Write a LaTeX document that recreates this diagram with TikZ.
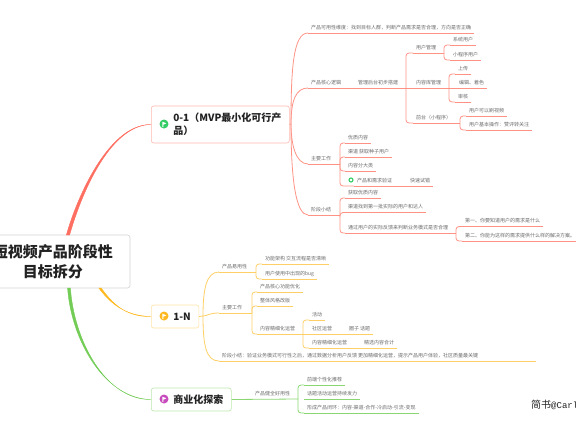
\documentclass[tikz,border=0pt]{standalone}
\usepackage{fontspec}
\setmainfont{Noto Sans CJK SC}
\newfontfamily\creditmono{Liberation Mono}
\usetikzlibrary{positioning,calc}
\definecolor{labelgray}{HTML}{6A6A6A}
\definecolor{darktext}{HTML}{222222}
\definecolor{redmain}{HTML}{FF6F61}
\definecolor{redline}{HTML}{FF9285}
\definecolor{redbox}{HTML}{FFB9B0}
\definecolor{ambermain}{HTML}{FFB81F}
\definecolor{amberline}{HTML}{FFCF66}
\definecolor{amberbox}{HTML}{FFE3A6}
\definecolor{greenmain}{HTML}{72CC55}
\definecolor{greenline}{HTML}{8AD672}
\definecolor{greenbox}{HTML}{BCE8AC}
\definecolor{flaggreen}{HTML}{33CC66}
\definecolor{flagpurple}{HTML}{C84BBE}

\begin{document}
\begin{tikzpicture}[x=1pt, y=-1pt, font=\fontsize{5}{6}\selectfont, node distance=12pt]
\tikzset{lbl/.style={anchor=south west, inner xsep=3pt, inner ysep=3pt, outer sep=0pt, text height=4.4pt, text depth=.6pt, text=labelgray},
topic/.style={lbl, append after command={(\tikzlastnode.south west) edge[draw=#1, line width=.8pt] (\tikzlastnode.south east)}},
wire/.style={draw=#1, line width=.8pt, rounded corners=3pt},
stagebox/.style={draw=#1, fill=white, anchor=west, rounded corners=2.5pt, line width=.6pt, inner xsep=8pt, inner ysep=2pt, align=left, text=darktext, font=\fontsize{10}{13}\selectfont\bfseries},
flagdot/.style={circle, fill=#1, minimum size=9pt, inner sep=0pt}}
\useasboundingbox (0,0) rectangle (576,432);

% centre and the three stages
\node[draw=gray!35, fill=white, rounded corners=2.5pt, line width=.6pt, minimum width=154pt, minimum height=53pt, align=center, text=darktext, font=\fontsize{15}{20.5}\selectfont\bfseries] (root) at (53,261.5) {短视频产品阶段性\\目标拆分};
\node[stagebox=redbox, minimum height=37pt] (mvp) at (151,124.5) {\hspace*{14pt}0-1（MVP最小化可行产\\\hspace*{14pt}品）};
\node[stagebox=amberbox, minimum height=23pt] (growth) at (151,316.5) {\hspace*{14pt}1-N};
\node[stagebox=greenbox, minimum height=23pt] (biz) at (151,399.5) {\hspace*{14pt}商业化探索};
\node[flagdot=flaggreen] (flagmvp) at (164,124) {};
\node[flagdot=ambermain] (flaggrowth) at (164,316) {};
\node[flagdot=flagpurple] (flagbiz) at (164,399) {};
\foreach \flag in {flagmvp,flaggrowth,flagbiz} \fill[white] ($(\flag.center)+(-1.7,-2.3)$) -- ++(4,1.6) -- ++(-3,1.4) -- ++(0,2.4) -- ++(-1,0) -- cycle;

% root connectors, thin towards the stage
\coordinate (rootred) at (68,235); \coordinate (rootamber) at (100,288); \coordinate (rootgreen) at (69,288);
\fill[redmain, draw=redmain, line width=.4pt] ($(rootred)+(-1.6,0)$) .. controls (76,200) and (108,124) .. (mvp.west) .. controls (108,125) and (79.5,200) .. ($(rootred)+(1.6,0)$) -- cycle;
\fill[ambermain, draw=ambermain, line width=.4pt] ($(rootamber)+(-1.2,0)$) .. controls (110,303) and (125,316) .. (growth.west) .. controls (125,317) and (112,303) .. ($(rootamber)+(1.2,0)$) -- cycle;
\fill[greenmain, draw=greenmain, line width=.4pt] ($(rootgreen)+(-1.4,0)$) .. controls (71,340) and (105,399) .. (biz.west) .. controls (105,400) and (74,340) .. ($(rootgreen)+(1.4,0)$) -- cycle;

% 0-1
\coordinate (hubmvp) at (291,124);
\draw[wire=redline] (mvp.east) -- (hubmvp);
\node[topic=redline] (usability) at (308,33) {产品可用性维度：找到目标人群，判断产品需求是否合理，方向是否正确};
\node[lbl] (corelogic) at (308,88) {产品核心逻辑};
\node[lbl, right=11pt of corelogic] (backend) {管理后台初步搭建};
\node[lbl, right=of backend] (library) {内容库管理};
\node[topic=redline, right=of library] (edit) {编辑、着色};
\draw[wire=redline] (corelogic.south west) -- (edit.south east);
\coordinate (forkback) at (406,88); \coordinate (forkuser) at (444,53); \coordinate (forklib) at (449,88); \coordinate (forkfront) at (460,123);
\node[lbl] (usermgmt) at (413,53) {用户管理};
\node[topic=redline] (sysuser) at (450,45) {系统用户};
\node[topic=redline] (miniuser) at (450,60) {小程序用户};
\node[topic=redline] (upload) at (455,74) {上传};
\node[topic=redline] (review) at (455,102) {审核};
\node[lbl] (front) at (413,123) {前台（小程序）};
\node[topic=redline] (browse) at (466,116) {用户可以刷视频};
\node[topic=redline] (basicop) at (466,130) {用户基本操作：赞评转关注};
\draw[wire=redline] (usermgmt.south west) -- (forkuser);
\draw[wire=redline] (front.south west) -- (forkfront);
\foreach \kid in {usermgmt,front} \draw[wire=redline] (forkback) |- (\kid.south west);
\foreach \kid in {sysuser,miniuser} \draw[wire=redline] (forkuser) |- (\kid.south west);
\foreach \kid in {upload,review} \draw[wire=redline] (forklib) |- (\kid.south west);
\foreach \kid in {browse,basicop} \draw[wire=redline] (forkfront) |- (\kid.south west);
\node[lbl] (mainwork) at (308,164) {主要工作};
\coordinate (forkmain) at (340,164);
\draw[wire=redline] (mainwork.south west) -- (forkmain);
\node[topic=redline] (quality) at (345,143) {优质内容};
\node[topic=redline] (seeduser) at (345,157) {渠道 获取种子用户};
\node[topic=redline] (category) at (345,171) {内容分大类};
\node[lbl] (verify) at (354,186) {产品和需求验证};
\node[lbl, right=of verify] (fasttrial) {快速试错};
\node[circle, draw=flaggreen, fill=white, line width=1.1pt, minimum size=4pt, inner sep=0pt] (okmark) at (351,180) {};
\draw[wire=redline] (verify.south west) -- (fasttrial.south east);
\foreach \kid in {quality,seeduser,category,verify} \draw[wire=redline] (forkmain) |- (\kid.south west);
\node[lbl] (summary) at (308,215) {阶段小结};
\coordinate (forksum) at (340,215); \coordinate (forkfeed) at (456,233);
\draw[wire=redline] (summary.south west) -- (forksum);
\node[topic=redline] (getquality) at (345,198) {获取优质内容};
\node[topic=redline] (firstbatch) at (345,212.5) {渠道找到第一批实际的用户和达人};
\node[lbl] (feedback) at (345,233) {通过用户的实际反馈来判断业务模式是否合理};
\draw[wire=redline] (feedback.south west) -- (forkfeed);
\foreach \kid in {getquality,firstbatch,feedback} \draw[wire=redline] (forksum) |- (\kid.south west);
\node[topic=redline] (first) at (462,226.5) {第一、你要知道用户的需求是什么};
\node[topic=redline] (second) at (462,241) {第二、你能为这样的需求提供什么样的解决方案。};
\foreach \kid in {first,second} \draw[wire=redline] (forkfeed) |- (\kid.south west);
\draw[wire=redline] (hubmvp) .. controls (291,70) and (293,33) .. (usability.south west);
\draw[wire=redline] (hubmvp) .. controls (291,100) and (296,88) .. (corelogic.south west);
\draw[wire=redline] (hubmvp) .. controls (291,145) and (296,164) .. (mainwork.south west);
\draw[wire=redline] (hubmvp) .. controls (291,180) and (296,215) .. (summary.south west);

% 1-N
\coordinate (hubgrowth) at (203,316);
\draw[wire=amberline] (growth.east) -- (hubgrowth);
\node[lbl] (easyuse) at (219,272) {产品易用性};
\coordinate (forkease) at (256,272);
\draw[wire=amberline] (easyuse.south west) -- (forkease);
\node[topic=amberline] (archflow) at (262,264) {功能架构 交互流程是否清晰};
\node[topic=amberline] (bugfix) at (262,279) {用户使用中出现的bug};
\foreach \kid in {archflow,bugfix} \draw[wire=amberline] (forkease) |- (\kid.south west);
\node[lbl] (midwork) at (219,313) {主要工作};
\coordinate (forkwork) at (252,313); \coordinate (forkrefine) at (303,334);
\draw[wire=amberline] (midwork.south west) -- (forkwork);
\node[topic=amberline] (corefunc) at (257,292) {产品核心功能优化};
\node[topic=amberline] (restyle) at (257,306) {整体风格改版};
\node[lbl] (refine) at (257,334) {内容精细化运营};
\foreach \kid in {corefunc,restyle,refine} \draw[wire=amberline] (forkwork) |- (\kid.south west);
\node[topic=amberline] (activity) at (309,320) {活动};
\node[lbl] (community) at (309,334) {社区运营};
\node[lbl, right=11pt of community] (circle) {圈子 话题};
\node[lbl] (contentop) at (309,348) {内容精细化运营};
\node[lbl, right=11pt of contentop] (curated) {精选内容合计};
\draw[wire=amberline] (refine.south west) -- (circle.south east);
\draw[wire=amberline] (contentop.south west) -- (curated.south east);
\foreach \kid in {activity,contentop} \draw[wire=amberline] (forkrefine) |- (\kid.south west);
\node[lbl] (midsum) at (219,361) {阶段小结：验证业务模式可行性之后，通过数据分析用户反馈 更加精细化运营，提示产品用户体验，社区质量最关键};
\coordinate (midsumend) at (536,361);
\draw[wire=amberline] (midsum.south west) -- (midsumend);
\draw[wire=amberline] (hubgrowth) .. controls (203,290) and (206,272) .. (easyuse.south west);
\draw[wire=amberline] (hubgrowth) .. controls (207,316) and (209,313) .. (midwork.south west);
\draw[wire=amberline] (hubgrowth) .. controls (203,345) and (206,361) .. (midsum.south west);

% commercial
\node[lbl] (health) at (252,399) {产品健全好用性};
\coordinate (forkbiz) at (298,399);
\draw[wire=greenline] (biz.east) -- (forkbiz);
\node[topic=greenline] (recommend) at (304,385) {前端个性化推荐};
\node[topic=greenline] (topics) at (304,399) {话题活动运营持续发力};
\node[topic=greenline] (loopback) at (304,413) {形成产品闭环：内容-渠道-合作-冷启动-引流-变现};
\foreach \kid in {recommend,loopback} \draw[wire=greenline] (forkbiz) |- (\kid.south west);

\node[anchor=west, inner sep=0pt, text=darktext, font=\fontsize{10}{12}\selectfont] (credit) at (531,405) {简书{\creditmono\fontsize{9}{12}\selectfont @Carl}};
\end{tikzpicture}
\end{document}
